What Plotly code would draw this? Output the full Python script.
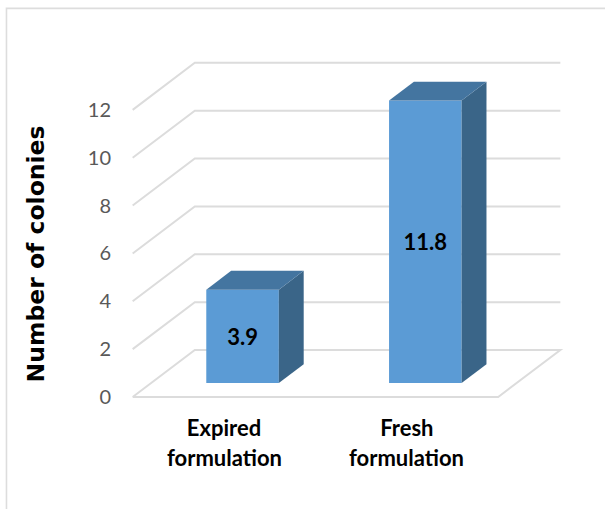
import plotly.graph_objects as go

categories = ["Expired formulation", "Fresh formulation"]
values = [3.9, 11.8]
tick_values = [0, 2, 4, 6, 8, 10, 12]
y_title = "Number of colonies"

FRONT_BLUE = "#5B9BD5"
SIDE_BLUE = "#3A6588"
TOP_BLUE = "#4475A0"
GRID = "#DCDCDC"
FONT = "Lato"

# oblique projection, in axis units
DEPTH_X = 0.34
DEPTH_Y = 1.965
BAR_NEAR = 0.298
BAR_FAR = 0.698
BAR_WIDTH = 0.397

W, H = 605, 509
L, R, T, B = 129.35, 41.3, 50.1, 100
PW, PH = W - L - R, H - T - B

def px_x(p):
    return (p - L) / PW

def px_y(p):
    return 1 - (p - T) / PH

fig = go.Figure()

centers = [i + 0.5 + BAR_NEAR * DEPTH_X for i in range(len(values))]
base = BAR_NEAR * DEPTH_Y
fig.add_trace(go.Bar(
    x=centers, y=values, base=base, width=BAR_WIDTH,
    marker=dict(color=FRONT_BLUE, line=dict(width=0)),
    text=[str(v) for v in values], textposition="inside",
    insidetextanchor="middle", textangle=0, constraintext="none",
    insidetextfont=dict(family=FONT, size=22, color="#000000", weight="bold"),
    hoverinfo="skip", showlegend=False,
))

dd = BAR_FAR - BAR_NEAR
for cx, v in zip(centers, values):
    x0, x1 = cx - BAR_WIDTH / 2, cx + BAR_WIDTH / 2
    top = base + v
    sx, sy = dd * DEPTH_X, dd * DEPTH_Y
    fig.add_trace(go.Scatter(
        x=[x1, x1 + sx, x1 + sx, x1, x1], y=[base, base + sy, top + sy, top, base],
        mode="lines", fill="toself", fillcolor=SIDE_BLUE, line=dict(width=0),
        hoverinfo="skip", showlegend=False))
    fig.add_trace(go.Scatter(
        x=[x0, x0 + sx, x1 + sx, x1, x0], y=[top, top + sy, top + sy, top, top],
        mode="lines", fill="toself", fillcolor=TOP_BLUE, line=dict(width=0),
        hoverinfo="skip", showlegend=False))

shapes = []
n = len(values)
for t in tick_values:
    pts = [(0, t), (DEPTH_X, t + DEPTH_Y), (n + DEPTH_X, t + DEPTH_Y)]
    if t == 0:
        pts += [(n, 0), (0, 0)]
    path = "M " + " L ".join(f"{a},{b}" for a, b in pts)
    shapes.append(dict(type="path", path=path, xref="x", yref="y", layer="below",
                       line=dict(color=GRID, width=2)))

# outer chart border: left and top edges only
shapes.append(dict(type="path", xref="paper", yref="paper", layer="below",
                   path=f"M {px_x(7)},{px_y(511)} L {px_x(7)},{px_y(8.5)} L {px_x(607)},{px_y(8.5)}",
                   line=dict(color="#DDDDDD", width=1.6)))

annotations = [dict(text=y_title, textangle=-90, xref="paper", yref="paper",
                    x=px_x(36.5), y=px_y(254.5), showarrow=False, xanchor="center", yanchor="middle",
                    font=dict(family="DejaVu Sans", size=23.5, color="#000000", weight="bold"))]
for i, c in enumerate(categories):
    annotations.append(dict(text=c.split(" ")[1], xref="x", yref="paper",
                            x=i + 0.5, y=px_y(457), showarrow=False,
                            xanchor="center", yanchor="middle",
                            font=dict(family=FONT, size=22, color="#000000", weight="bold")))

fig.update_layout(
    width=W, height=H, margin=dict(l=L, r=R, t=T, b=B, autoexpand=False),
    paper_bgcolor="white", plot_bgcolor="white", shapes=shapes, annotations=annotations,
    xaxis=dict(range=[-0.02, 2.36], tickvals=[i + 0.5 for i in range(n)],
               ticktext=[c.split(" ")[0] for c in categories],
               showgrid=False, zeroline=False, showline=False, ticks="", ticklabelstandoff=4,
               tickfont=dict(family=FONT, size=22, color="#000000", weight="bold")),
    yaxis=dict(range=[-0.5, 14.5], tickvals=tick_values,
               showgrid=False, zeroline=False, showline=False, ticks="", ticklabelstandoff=17,
               tickfont=dict(family=FONT, size=20, color="#595959")),
    showlegend=False,
)

fig.write_html("out.html", config=dict(displayModeBar=False),
               post_script="document.body.style.margin='0';document.body.style.overflow='hidden';")
